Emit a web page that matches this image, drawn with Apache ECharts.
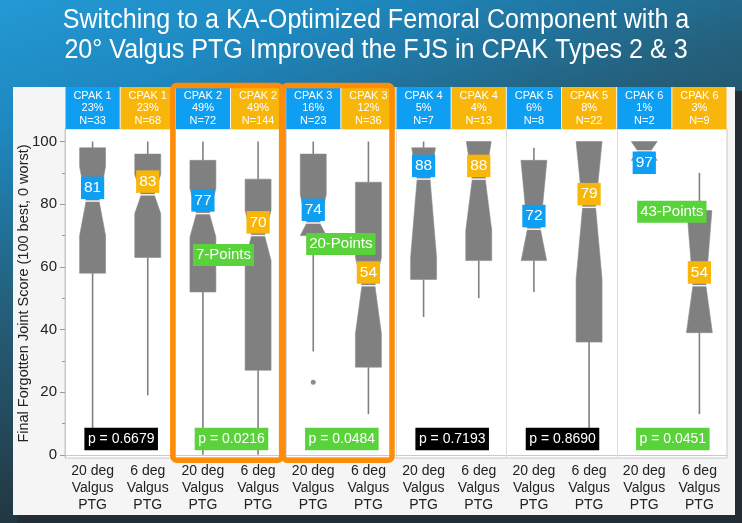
<!DOCTYPE html>
<html><head><meta charset="utf-8">
<script src="https://cdn.jsdelivr.net/npm/echarts@6/dist/echarts.min.js"></script>
<style>html,body{margin:0;padding:0;background:#1e2c35;}#chart{width:742px;height:523px;}</style>
</head><body><div id="chart"></div>
<script>
// ---------- data ----------
const categories = ['20 deg\nValgus\nPTG','6 deg\nValgus\nPTG','20 deg\nValgus\nPTG','6 deg\nValgus\nPTG',
  '20 deg\nValgus\nPTG','6 deg\nValgus\nPTG','20 deg\nValgus\nPTG','6 deg\nValgus\nPTG',
  '20 deg\nValgus\nPTG','6 deg\nValgus\nPTG','20 deg\nValgus\nPTG','6 deg\nValgus\nPTG'];
const cpakTypes = ['CPAK 1','CPAK 1','CPAK 2','CPAK 2','CPAK 3','CPAK 3','CPAK 4','CPAK 4','CPAK 5','CPAK 5','CPAK 6','CPAK 6'];
const cohortPct = ['23%','23%','49%','49%','16%','12%','5%','4%','6%','8%','1%','3%'];
const cohortN = [33,68,72,144,23,36,7,13,8,22,2,9];
const whiskerLow  = [4, 19, 0, 0, 33, 13, 44, 50, 52, 4, 94, 13];
const q1          = [58, 63, 52, 27, 70, 28, 56, 62, 62, 36, 94, 39];
const median      = [81, 83, 77, 70, 74, 54, 88, 88, 72, 79, 97, 54];
const q3          = [98, 96, 94, 88, 96, 87, 98, 100, 94, 100, 100, 78];
const whiskerHigh = [100, 100, 100, 100, 100, 100, 100, 100, 98, 100, 100, 90];
const notchLow    = [70, 77, 69.5, 62, 70, 38.7, 63, 71.7, 61.6, 56, 94, 39];
const notchHigh   = [92, 89.5, 85, 78, 83, 63, 100, 101, 94, 100, 100, 80];
const outliers    = [[4, 23.2]];
const pValues     = ['0.6679','0.0216','0.0484','0.7193','0.8690','0.0451'];
const pSignificant = [false, true, true, false, false, true];
const diffGroups  = [1, 2, 5];
const diffPoints  = ['7-Points','20-Points','43-Points'];
const highlightGroups = [1, 2];
const yTickLabels = [0, 20, 40, 60, 80, 100];
const yMinorTicks = [10, 30, 50, 70, 90];

// ---------- layout / style (not data) ----------
const diffLabelAnchor = [{dx: -7, v: 63.8}, {dx: 0, v: 67.3}, {dx: 0, v: 77.6}];
const P_LABEL_V = 5.1;
const BLUE = '#0e9ff3', ORANGE = '#f8b60a', GREEN = '#5ad23b', FRAME = '#fd8d08', BOXGRAY = '#808080';
const FONT = '"Liberation Sans", Arial, Helvetica, sans-serif';
const W = 742, H = 523;

function boxPolygon(api, cx, full, narrow, lo, md, hi, nLo, nHi) {
  const vals = [hi];
  if (nHi < hi) vals.push(nHi);
  vals.push(md);
  if (nLo > lo) vals.push(nLo);
  vals.push(lo);
  const width = v => {
    let t;
    if (v >= md) t = nHi > md ? Math.min(1, (v - md) / (nHi - md)) : 1;
    else t = nLo < md ? Math.min(1, (md - v) / (md - nLo)) : 1;
    return narrow + (full - narrow) * t;
  };
  const y = v => api.coord([0, v])[1];
  const right = vals.map(v => [cx + width(v) / 2, y(v)]);
  const left = vals.slice().reverse().map(v => [cx - width(v) / 2, y(v)]);
  return right.concat(left);
}

const boxData = categories.map((c, i) => [i, whiskerLow[i], q1[i], median[i], q3[i], whiskerHigh[i], notchLow[i], notchHigh[i]]);

const chart = echarts.init(document.getElementById('chart'), null, {renderer: 'canvas'});
const option = {
  animation: false,
  graphic: [
    {type: 'rect', z: -10, shape: {x: 0, y: 0, width: W, height: H},
     style: {fill: new echarts.graphic.LinearGradient(0, 0, 0.25, 1, [
       {offset: 0, color: '#2399d4'}, {offset: 0.22, color: '#1e88c0'},
       {offset: 0.5, color: '#24627f'}, {offset: 0.8, color: '#24414f'}, {offset: 1, color: '#1f2b33'}])}},
    {type: 'rect', z: -9, shape: {x: 17, y: 91, width: 725, height: 432}, style: {fill: '#232d33'}},
    {type: 'rect', z: -8, shape: {x: 13, y: 87, width: 722, height: 428}, style: {fill: '#f5f5f5'}},
    {type: 'text', z: 10, x: 376, y: 36, scaleX: 0.93, style: {text: 'Switching to a KA-Optimized Femoral Component with a\n20\u00b0 Valgus PTG Improved the FJS in CPAK Types 2 & 3',
      x: 0, y: 0, align: 'center', verticalAlign: 'middle', textAlign: 'center', textVerticalAlign: 'middle',
      fill: '#ffffff', fontSize: 27, lineHeight: 30, fontFamily: FONT}}
  ],
  grid: {left: 65, right: 15, top: 129, bottom: 65, show: true, backgroundColor: '#ffffff', borderColor: '#c9c9c9', borderWidth: 1},
  xAxis: {type: 'category', data: categories,
    axisLine: {lineStyle: {color: '#c9c9c9'}}, axisTick: {show: false},
    axisLabel: {color: '#222', fontSize: 14, lineHeight: 17, margin: 5, fontFamily: FONT, interval: 0}},
  yAxis: [
    {type: 'value', min: -1, max: 104,
     name: 'Final Forgotten Joint Score (100 best, 0 worst)', nameLocation: 'middle', nameGap: 34, nameRotate: 90,
     nameMoveOverlap: false,
     nameTextStyle: {color: '#222', fontSize: 14.5, fontFamily: FONT},
     axisLine: {show: true, lineStyle: {color: '#c9c9c9'}},
     axisTick: {show: true, length: 5, customValues: yTickLabels, lineStyle: {color: '#9a9a9a'}},
     axisLabel: {customValues: yTickLabels, color: '#222', fontSize: 15, margin: 8, fontFamily: FONT},
     splitLine: {show: false}},
    {type: 'value', min: -1, max: 104, position: 'left',
     axisLine: {show: false}, axisLabel: {show: false}, splitLine: {show: false},
     axisTick: {show: true, length: 3, customValues: yMinorTicks, lineStyle: {color: '#9a9a9a'}}}
  ],
  series: [
    // group separators
    {type: 'custom', z: 1, silent: true, data: [1, 2, 3, 4, 5].map(g => [g * 2, 0]),
     renderItem(params, api) {
       const cs = params.coordSys;
       const x = Math.round(api.coord([api.value(0), 0])[0] - api.size([1, 0])[0] / 2) + 0.5;
       return {type: 'line', shape: {x1: x, y1: cs.y, x2: x, y2: cs.y + cs.height}, style: {stroke: '#dcdcdc', lineWidth: 1}};
     }},
    // headers
    {type: 'custom', z: 2, silent: true, data: categories.map((c, i) => [i, 0]),
     renderItem(params, api) {
       const i = api.value(0);
       const cs = params.coordSys;
       const cx = api.coord([i, 0])[0];
       const bw = api.size([1, 0])[0];
       return {type: 'group', children: [
         {type: 'rect', shape: {x: cx - bw / 2 + 0.5, y: cs.y - 42, width: bw - 1, height: 42}, style: {fill: i % 2 === 0 ? BLUE : ORANGE}},
         {type: 'text', style: {text: cpakTypes[i] + '\n' + cohortPct[i] + '\nN=' + cohortN[i], x: cx, y: cs.y - 21,
           align: 'center', verticalAlign: 'middle', textAlign: 'center', textVerticalAlign: 'middle',
           fill: '#fff', fontSize: 11, lineHeight: 12.5, fontFamily: FONT}}
       ]};
     }},
    // boxes
    {type: 'custom', z: 3, silent: true, data: boxData,
     renderItem(params, api) {
       const i = api.value(0);
       const lo = api.value(2), md = api.value(3), hi = api.value(4);
       const cx = api.coord([i, md])[0];
       const full = api.size([1, 0])[0] * 0.47;
       const narrow = full * 0.5;
       const y = v => api.coord([i, v])[1];
       const yMed = y(md);
       const cs = params.coordSys;
       const labelTop = Math.max(yMed - 24.5, cs.y + 22.5);
       const children = [];
       if (api.value(5) > hi) children.push({type: 'line', shape: {x1: cx, y1: y(api.value(5)), x2: cx, y2: y(hi)}, style: {stroke: BOXGRAY, lineWidth: 1.6}});
       if (api.value(1) < lo) children.push({type: 'line', shape: {x1: cx, y1: y(lo), x2: cx, y2: y(api.value(1))}, style: {stroke: BOXGRAY, lineWidth: 1.6}});
       children.push({type: 'polygon', shape: {points: boxPolygon(api, cx, full, narrow, lo, md, hi, api.value(6), api.value(7))},
         style: {fill: BOXGRAY, stroke: '#8a8a8a', lineWidth: 0.6}});
       children.push({type: 'line', shape: {x1: cx - narrow / 2 - 1, y1: yMed, x2: cx + narrow / 2 + 1, y2: yMed}, style: {stroke: '#f2f2f2', lineWidth: 1.5}});
       children.push({type: 'text', style: {text: String(md), x: cx, y: labelTop + 11.3,
         align: 'center', verticalAlign: 'middle', textAlign: 'center', textVerticalAlign: 'middle',
         fill: '#fff', fontSize: 15.5, lineHeight: 16, padding: [3.5, 3, 3, 3], fontFamily: FONT,
         backgroundColor: i % 2 === 0 ? BLUE : ORANGE}});
       return {type: 'group', children};
     }},
    // outliers
    {type: 'scatter', z: 3, silent: true, data: outliers, symbolSize: 5, itemStyle: {color: '#707070'}},
    // point difference labels
    {type: 'custom', z: 5, silent: true, data: diffGroups.map((g, k) => [g * 2, diffLabelAnchor[k].v, k]),
     renderItem(params, api) {
       const k = api.value(2);
       const c0 = api.coord([api.value(0), api.value(1)]);
       const c1 = api.coord([api.value(0) + 1, api.value(1)]);
       return {type: 'text', style: {text: diffPoints[k], x: (c0[0] + c1[0]) / 2 + diffLabelAnchor[k].dx, y: c0[1],
         align: 'center', verticalAlign: 'middle', textAlign: 'center', textVerticalAlign: 'middle',
         fill: '#fff', fontSize: 15, lineHeight: 16, padding: [3, 3, 3, 3], fontFamily: FONT, backgroundColor: GREEN}};
     }},
    // p-value labels
    {type: 'custom', z: 5, silent: true, data: pValues.map((p, g) => [g * 2, P_LABEL_V, g]),
     renderItem(params, api) {
       const g = api.value(2);
       const c0 = api.coord([api.value(0), api.value(1)]);
       const c1 = api.coord([api.value(0) + 1, api.value(1)]);
       return {type: 'text', style: {text: 'p = ' + pValues[g], x: (c0[0] + c1[0]) / 2 + 1, y: c0[1],
         align: 'center', verticalAlign: 'middle', textAlign: 'center', textVerticalAlign: 'middle',
         fill: '#fff', fontSize: 14, lineHeight: 16, padding: [3.5, 3.5, 3, 3.5], fontFamily: FONT,
         backgroundColor: pSignificant[g] ? GREEN : '#000'}};
     }},
    // highlight frames
    {type: 'custom', z: 8, silent: true, data: highlightGroups.map(g => [g * 2, 0]),
     renderItem(params, api) {
       const cs = params.coordSys;
       const a = api.value(0);
       const bw = api.size([1, 0])[0];
       const left = api.coord([a, 0])[0] - bw / 2 - 2.5;
       const right = api.coord([a + 1, 0])[0] + bw / 2 - 4;
       const top = cs.y - 43.5, bottom = cs.y + cs.height + 2.3;
       return {type: 'rect', shape: {x: left, y: top, width: right - left, height: bottom - top, r: 4},
         style: {fill: null, stroke: FRAME, lineWidth: 5.5}};
     }}
  ]
};
chart.setOption(option);
</script></body></html>
